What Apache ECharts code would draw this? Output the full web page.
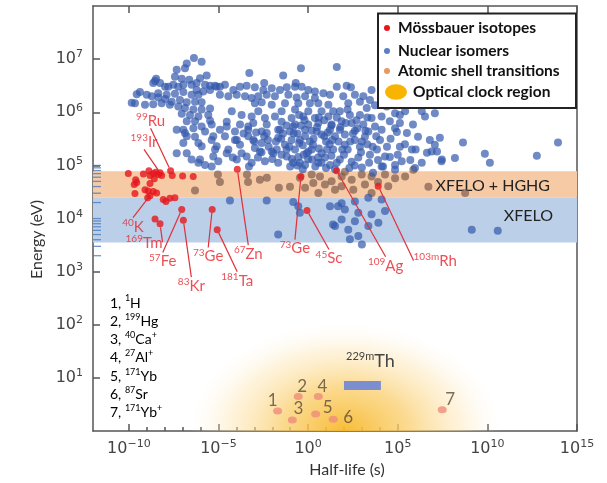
<!DOCTYPE html>
<html>
<head>
<meta charset="utf-8">
<script src="https://cdn.jsdelivr.net/npm/echarts@6/dist/echarts.min.js"></script>
<style>html,body{margin:0;padding:0;background:#fff}#main{width:607px;height:483px}</style>
</head>
<body>
<div id="main"></div>
<script>
// all values are log10: half-life in s (x), energy in eV (y)
var xMajorTicks = [-10, -5, 0, 5, 10, 15];
var xMinorTicks = [-10, -9, -8, -7, -6, -5, -4, -3, -2, -1, 0, 1, 2, 3, 4, 5];
var yTicks = [1, 2, 3, 4, 5, 6, 7];
var bandTickE = [2000, 3000, 4000, 5000, 6000, 7000, 8000, 9000, 10000, 20000, 30000, 40000, 50000, 60000, 70000, 80000, 90000, 100000];

var bandHghg = [4.39, 4.89];     // XFELO + HGHG
var bandXfelo = [3.55, 4.39];    // XFELO

// labelled Mössbauer isotopes
var mossMass = ['99', '193', '40', '169', '57', '83', '73', '181', '67', '73', '45', '109', '103m'];
var mossElem = ['Ru', 'Ir', 'K', 'Tm', 'Fe', 'Kr', 'Ge', 'Ta', 'Zn', 'Ge', 'Sc', 'Ag', 'Rh'];
var mossLogT = [-7.67, -8.26, -8.82, -8.26, -7.05, -6.96, -5.35, -5.07, -3.95, -0.40, -0.06, 1.59, 3.91];
var mossLogE = [4.90, 4.86, 4.43, 3.90, 4.17, 3.97, 4.17, 3.79, 4.93, 4.79, 4.15, 4.90, 4.61];
// other Mössbauer isotopes
var mossOther = [[-10.03,4.85],[-9.62,4.73],[-9.56,4.68],[-9.70,4.64],[-9.66,4.47],[-9.19,4.84],[-8.88,4.90],
    [-8.82,4.81],[-8.64,4.85],[-8.50,4.87],[-8.36,4.83],[-8.17,4.81],[-8.58,4.75],[-8.82,4.66],[-9.10,4.54],
    [-8.92,4.52],[-8.64,4.51],[-8.45,4.48],[-8.95,4.39],[-8.08,4.36],[-7.93,4.32],[-7.71,4.38],[-7.43,4.39],
    [-7.58,4.81],[-7.00,4.80],[-6.41,4.79],[-8.54,3.99]];

var isomers = [
    [-6.37,7.02],[-5.94,6.95],[-6.77,6.92],[-7.33,6.80],[-6.87,6.83],[-7.43,6.67],[-7.05,6.63],[-6.63,6.61],[-8.48,6.63],
    [-8.26,6.55],[-8.64,6.55],[-7.98,6.48],[-7.80,6.48],[-7.52,6.52],[-7.24,6.48],[-6.96,6.52],[-6.50,6.52],[-6.22,6.55],
    [-5.75,6.52],[-5.47,6.50],[-5.19,6.50],[-4.92,6.48],[-5.66,6.69],[-6.03,6.64],[-6.22,6.42],[-5.85,6.39],[-5.47,6.42],
    [-8.36,6.36],[-7.89,6.33],[-7.43,6.35],[-6.96,6.38],[-6.50,6.33],[-6.12,6.33],[-9.38,6.38],[-9.00,6.33],[-8.72,6.30],
    [-8.36,6.28],[-7.98,6.25],[-7.61,6.20],[-7.15,6.23],[-6.77,6.19],[-6.31,6.20],[-5.94,6.19],[-9.66,6.17],[-9.10,6.14],
    [-8.64,6.15],[-8.17,6.17],[-7.71,6.14],[-7.24,6.11],[-6.87,6.08],[-6.40,6.05],[-5.94,6.05],[-5.47,6.07],[-7.05,5.97],
    [-6.59,5.95],[-6.12,5.92],[-5.57,5.95],[-6.77,5.83],[-6.31,5.83],[-5.47,5.84],[-6.96,5.67],[-6.40,5.70],[-5.94,5.73],
    [-5.38,5.77],[-9.84,6.18],[-9.56,6.34],[-8.54,6.59],
    [-6.87,5.61],[-6.31,5.54],[-7.33,5.23],[-6.50,5.11],[-6.12,5.05],[-5.75,5.01],[-5.38,4.98],[-6.96,5.42],[-5.94,5.36],
    [-5.38,5.48],[-5.19,5.30],[-7.33,5.67],[-6.77,5.55],[-6.12,5.42],[-5.75,5.64],[-5.29,5.55],[-5.10,5.36],[-4.54,5.73],
    [-3.98,5.48],[-3.34,5.73],[-3.06,5.48],[-2.31,5.61],[-1.57,5.67],[-0.83,5.73],[-0.46,5.48],[-0.08,5.23],[-6.77,5.23],
    [-6.03,5.11],[-5.29,5.17],[-4.54,5.23],[-3.98,5.11],[-3.43,5.17],[-2.69,5.26],[-1.94,5.23],[-1.19,5.17],[-0.46,5.05],
    [-0.40,6.83],[1.60,6.85],[-3.28,6.74],[-1.39,6.69],[-2.45,6.55],[-0.69,6.55],[-5.10,6.48],[-4.64,6.52],[-4.17,6.42],
    [-3.80,6.48],[-3.43,6.50],[-2.97,6.47],[-2.50,6.42],[-2.03,6.45],[-1.57,6.42],[-1.19,6.47],[-0.73,6.48],[-0.36,6.48],
    [0.01,6.42],[0.38,6.39],[0.85,6.36],[1.22,6.33],[1.60,6.48],[-4.92,6.33],[-4.45,6.30],[-3.98,6.33],[-3.52,6.30],
    [-3.15,6.27],[-2.78,6.30],[-2.31,6.33],[-1.85,6.30],[-1.10,6.33],[-0.64,6.28],[-0.17,6.30],[0.38,6.27],[-2.97,6.17],
    [-2.59,6.19],[-2.03,6.14],[-1.29,6.17],[-0.55,6.17],[0.10,6.17],[0.57,6.17],[1.13,6.14],[-4.26,6.02],[-2.78,6.02],
    [-1.48,6.02],[-0.73,6.05],[0.01,6.02],[0.75,6.02],[1.40,6.02],[-3.71,5.95],[-3.15,5.92],[-2.41,5.89],[-1.85,5.92],
    [-0.92,5.89],[-0.27,5.92],[0.38,5.89],[1.13,5.92],[-4.54,5.82],[-3.80,5.77],[-3.06,5.80],[-2.31,5.77],[-1.48,5.82],
    [-0.73,5.77],[0.01,5.77],[0.57,5.80],[1.31,5.77],[-4.92,5.67],[-4.08,5.64],[-3.34,5.67],[-2.59,5.64],[-1.67,5.67],
    [-1.01,5.64],[-0.17,5.67],[0.48,5.64],[1.22,5.67],
    [2.15,6.50],[2.39,6.47],[1.96,6.30],[2.61,6.33],[3.08,6.30],[3.54,6.42],[2.89,6.20],[2.24,6.17],[3.45,6.23],
    [3.27,6.08],[3.73,6.13],[4.38,6.11],[4.85,5.98],[5.41,6.02],[6.34,6.02],[7.07,5.98],[1.77,6.02],[2.33,5.95],
    [2.89,5.95],[3.54,5.89],[4.10,5.92],[4.56,5.83],[1.87,5.83],[2.43,5.80],[3.08,5.77],[3.73,5.73],[1.77,5.67],
    [2.61,5.65],[3.36,5.64],[4.10,5.67],[4.85,5.70],[5.12,5.95],[5.12,5.80],[5.85,5.77],[6.52,5.92],[4.95,5.63],
    [5.51,5.61],[6.13,5.54],[6.79,5.48],[7.35,5.52],[5.12,5.35],[5.79,5.30],[6.63,5.24],[7.19,5.26],[7.46,5.11],
    [8.64,5.43],[9.86,5.22],[10.14,5.05],[12.76,5.18],[13.94,5.43],[4.01,5.48],[3.84,5.30],[4.56,5.16],[4.18,4.98],
    [4.85,5.01],[3.62,4.86],[8.19,5.14],
    [-4.64,5.55],[-4.08,5.48],[-3.34,5.55],[-2.59,5.42],[-1.67,5.52],[-0.92,5.48],[-0.17,5.55],[0.75,5.58],[1.50,5.55],
    [-4.45,5.30],[-3.71,5.23],[-2.97,5.33],[-2.03,5.26],[-1.48,5.20],[-0.73,5.30],[0.01,5.26],[0.75,5.23],[1.40,5.30],
    [-2.41,5.08],[-1.67,5.05],[-0.83,5.05],[-0.17,5.01],[0.57,5.05],[1.22,5.01],[-5.01,5.08],[-3.15,5.05],
    [7.07,5.39],[6.89,5.26],[7.44,5.08],[6.34,5.05],[5.96,4.95],[5.22,5.08],[4.29,5.17],[4.10,4.98],[4.85,4.92],
    [2.05,5.58],[2.61,5.48],[3.17,5.54],[2.21,5.30],[2.89,5.35],[3.45,5.20],[1.77,5.11],[2.43,5.07],[3.00,4.96],
    [2.05,5.39],[0.27,5.39],[1.00,5.45],[-0.55,5.16],[0.21,5.11],[0.94,5.15],[-1.29,5.39],[-2.24,5.48],[-3.80,5.39],
    [-2.20,5.35],[-1.80,5.45],[-1.20,5.30],[-0.60,5.60],[-0.30,5.38],[0.30,5.50],[0.60,5.32],[1.10,5.62],[1.70,5.45],
    [1.30,5.18],[0.40,4.98],[-0.90,5.12],[-2.00,5.12],[-2.80,5.15],[-1.40,5.60],[-0.20,5.85],[0.90,5.85],[1.60,5.90],
    [2.20,6.05],[2.70,5.85],[3.30,5.90],[2.50,5.60],[3.00,5.45],[3.80,5.55],[1.20,5.40],[0.55,5.15],[-0.50,5.42],
    [-1.00,4.98],[2.80,5.15],[3.40,5.05],[1.50,4.93],[-2.90,5.62],[-3.60,5.60],[-4.20,5.15],[-3.30,4.98],[2.00,5.20],
    [2.60,5.00],[0.00,5.12],[-1.20,5.75],[0.20,5.65],
    [-0.80,5.60],[-0.40,5.75],[0.10,5.45],[0.50,5.72],[0.90,5.55],[1.35,5.48],[1.80,5.72],[1.90,5.30],[1.60,5.05],
    [1.05,5.30],[0.75,5.05],[0.20,5.30],[-0.25,5.20],[-0.60,5.00],[-1.05,5.35],[-1.50,5.50],[-1.75,5.30],[-2.45,5.55],
    [-2.60,5.25],[-3.00,5.45],[2.35,5.45],[2.75,5.70],[3.20,5.65],[3.60,5.35],[3.90,5.10],[2.30,4.95],[1.00,4.95],
    [-0.30,4.93],[1.30,5.75],[0.60,5.90],[-0.50,5.95],[2.10,5.80],[2.95,5.25],[3.30,5.40],[4.40,5.35],[4.60,5.50],
    [5.40,5.40],[5.00,5.20],[5.70,5.10],[6.00,5.30],
    [-4.36,4.34],[-2.31,4.34],[-0.83,4.31],[-0.55,4.23],[-0.46,4.11],[-1.67,3.70],[1.50,3.86],[1.67,4.23],[1.87,4.29],
    [2.61,4.32],[3.36,4.39],[4.10,4.36],[2.05,4.17],[2.80,4.11],[3.54,4.08],[4.29,4.14],[1.87,3.98],[2.61,3.95],
    [3.36,3.86],[3.92,3.92],[2.24,3.79],[2.80,3.67],[2.33,3.61],[1.39,3.89],[3.00,3.51],[1.22,4.23],[9.13,3.79],[10.58,3.77]
];

var shellPts = [[-6.31,4.53],[-5.03,4.83],[-4.92,4.69],[-3.41,4.83],[-3.35,4.69],[-2.69,4.73],[-2.30,4.77],[-1.63,4.58],
    [-1.01,4.60],[0.20,4.83],[0.29,4.67],[0.66,4.79],[0.94,4.64],[1.31,4.70],[1.50,4.54],[0.57,4.48],[1.87,4.79],
    [2.43,4.73],[2.99,4.83],[3.54,4.79],[4.29,4.83],[4.85,4.76],[5.41,4.79],[5.87,4.92],[1.87,4.61],[2.52,4.54],
    [3.17,4.64],[4.47,4.61],[3.54,4.48],[6.71,4.60],[8.76,4.48],[-0.46,4.77],[-0.17,4.58],[2.05,4.88],[3.90,4.69]];

// optical clocks
var clockMass = ['1', '199', '40', '27', '171', '87', '171'];
var clockElem = ['H', 'Hg', 'Ca', 'Al', 'Yb', 'Sr', 'Yb'];
var clockIon = ['', '', '+', '+', '', '', '+'];
var clockLogT = [-1.70, -0.55, -0.88, 0.57, 0.42, 1.40, 7.48];
var clockLogE = [0.38, 0.65, 0.21, 0.65, 0.32, 0.225, 0.40];
var clockRegionT = [-6.7, 10.8];
var clockRegionE = [-2.05, 2.05];
var thT = [2.00, 4.06];   // 229mTh
var thE = [0.775, 0.945];

// label placement (pixels)
var mossShift = [[-20,-50],[-16,-31],[-17,31],[-16,19],[-19,52],[8,66],[-4,47],[20,51],[11,85],[-6,72],[22,48],[49,95],[57,75]];
var clockShift = [[-5,-10],[4,-10],[6,-11],[4,-10],[12,-7],[15,-2],[8,-10]];

var red = '#e5161d';
var chart = echarts.init(document.getElementById('main'));

function expLabel(v) {
    return '{b|10}{s|' + String(v).replace('-', '\u2212') + '}';
}
var tickRich = {
    b: {fontFamily: 'DejaVu Sans', fontSize: 16, color: '#444', lineHeight: 20},
    s: {fontFamily: 'DejaVu Sans', fontSize: 11, color: '#444', lineHeight: 12, verticalAlign: 'top'}
};
var axisLine = {onZero: false, lineStyle: {color: '#555', width: 1.5}};

var mossData = [];
for (var i = 0; i < mossLogT.length; i++) {
    mossData.push([mossLogT[i], mossLogE[i]]);
}
var clockData = [];
for (var j = 0; j < clockLogT.length; j++) {
    clockData.push([clockLogT[j], clockLogE[j]]);
}
var bandTickData = bandTickE.map(function (e) { return [-12, Math.log10(e)]; });

var graphic = [
    {type: 'rect', x: 378, y: 13.5, shape: {width: 198, height: 94.5}, style: {fill: '#fff', stroke: '#222', lineWidth: 2}, z: 100},
    {type: 'circle', shape: {cx: 387, cy: 28, r: 3}, style: {fill: red}, z: 101},
    {type: 'circle', shape: {cx: 387, cy: 51, r: 3}, style: {fill: '#5b7fc4'}, z: 101},
    {type: 'circle', shape: {cx: 387, cy: 71, r: 3}, style: {fill: '#e8995e'}, z: 101},
    {type: 'circle', x: 396, y: 92, scaleY: 0.7, shape: {cx: 0, cy: 0, r: 11}, style: {fill: '#f8b400'}, z: 101}
];
var legendText = ['Mössbauer isotopes', 'Nuclear isomers', 'Atomic shell transitions', 'Optical clock region'];
var legendPos = [[398, 28], [398, 51], [398, 71], [413, 92]];
legendText.forEach(function (t, k) {
    graphic.push({type: 'text', x: legendPos[k][0], y: legendPos[k][1], z: 101,
        style: {text: t, fill: '#111', fontFamily: 'Lato', fontWeight: 'bold', fontSize: 15.5, verticalAlign: 'middle'}});
});
var listRich = {
    n: {fontFamily: 'Lato', fontSize: 14, color: '#222', lineHeight: 18},
    s: {fontFamily: 'Lato', fontSize: 9, color: '#222', lineHeight: 10, verticalAlign: 'top'}
};
clockMass.forEach(function (m, k) {
    graphic.push({type: 'text', x: 110, y: 303 + k * 18.3,
        style: {text: '{n|' + (k + 1) + ', }{s|' + m + '}{n|' + clockElem[k] + '}' + (clockIon[k] ? '{s|+}' : ''),
            rich: listRich, verticalAlign: 'middle'}});
});

var option = {
    animation: false,
    backgroundColor: '#fff',
    grid: {left: 93, right: 30, top: 6, bottom: 51},
    xAxis: [{
        type: 'value', min: -12, max: 15, position: 'bottom',
        axisLine: axisLine,
        axisTick: {inside: true, length: 7, customValues: xMajorTicks, lineStyle: {color: '#555', width: 1.5}},
        axisLabel: {customValues: xMajorTicks, formatter: expLabel, rich: tickRich, margin: 8},
        splitLine: {show: false},
        name: 'Half-life (s)', nameLocation: 'middle', nameGap: 25,
        nameTextStyle: {fontFamily: 'Lato', fontSize: 16, color: '#333', padding: [0, 0, 0, 24]}
    }, {
        type: 'value', min: -12, max: 15, position: 'bottom',
        axisLine: {show: false, onZero: false},
        axisTick: {inside: true, length: 4, customValues: xMinorTicks, lineStyle: {color: '#555', width: 1.5}},
        axisLabel: {show: false}, splitLine: {show: false}
    }, {
        type: 'value', min: -12, max: 15, position: 'top',
        axisLine: axisLine,
        axisTick: {inside: true, length: 7, customValues: xMajorTicks, lineStyle: {color: '#555', width: 1.5}},
        axisLabel: {show: false}, splitLine: {show: false}
    }],
    yAxis: [{
        type: 'value', min: 0, max: 8, position: 'left',
        axisLine: axisLine,
        axisTick: {inside: true, length: 7, customValues: yTicks, lineStyle: {color: '#555', width: 1.5}},
        axisLabel: {customValues: yTicks, formatter: expLabel, rich: tickRich, margin: 10},
        splitLine: {show: false},
        name: 'Energy (eV)', nameLocation: 'middle', nameGap: 45,
        nameTextStyle: {fontFamily: 'Lato', fontSize: 16, color: '#333', padding: [0, 42, 0, 0]}
    }, {
        type: 'value', min: 0, max: 8, position: 'right',
        axisLine: axisLine, axisTick: {show: false}, axisLabel: {show: false}, splitLine: {show: false}
    }],
    graphic: graphic,
    series: [{
        name: 'bands', type: 'line', data: [], z: 1, silent: true,
        markArea: {
            silent: true, z: 1,
            label: {show: true, position: 'insideRight', color: '#222', fontFamily: 'Lato', fontSize: 16},
            data: [
                [{name: 'XFELO + HGHG', yAxis: bandHghg[0], itemStyle: {color: '#f7caa6', opacity: 1}, label: {offset: [-22, 1]}}, {yAxis: bandHghg[1]}],
                [{name: 'XFELO', yAxis: bandXfelo[0], itemStyle: {color: '#bccfe8', opacity: 1}, label: {offset: [-19, -4]}}, {yAxis: bandXfelo[1]}]
            ]
        }
    }, {
        name: 'Optical clock region', type: 'custom', z: 1, clip: true, silent: true,
        data: [[(clockRegionT[0] + clockRegionT[1]) / 2, (clockRegionE[0] + clockRegionE[1]) / 2]],
        renderItem: function (params, api) {
            var c = api.coord([api.value(0), api.value(1)]);
            var p = api.coord([clockRegionT[1], clockRegionE[1]]);
            var rx = p[0] - c[0], ry = c[1] - p[1];
            return {
                type: 'circle', x: c[0], y: c[1], scaleY: ry / rx,
                shape: {cx: 0, cy: 0, r: rx},
                style: {fill: new echarts.graphic.RadialGradient(0.5, 0.5, 0.5, [
                    {offset: 0, color: 'rgba(248,185,45,0.95)'},
                    {offset: 0.4, color: 'rgba(250,205,105,0.75)'},
                    {offset: 0.75, color: 'rgba(253,228,175,0.42)'},
                    {offset: 1, color: 'rgba(255,248,235,0)'}
                ])}
            };
        }
    }, {
        name: 'Atomic shell transitions', type: 'scatter', z: 2, data: shellPts,
        symbolSize: 8, itemStyle: {color: '#7d5c4e', opacity: 0.7}
    }, {
        name: 'Nuclear isomers', type: 'scatter', z: 3, data: isomers,
        symbolSize: 8, itemStyle: {color: '#3358ad', opacity: 0.7}
    }, {
        name: 'Mössbauer isotopes', type: 'scatter', z: 4, data: mossOther,
        symbolSize: 7, itemStyle: {color: red}
    }, {
        name: 'Mössbauer labelled', type: 'scatter', z: 4, data: mossData,
        symbolSize: 7, itemStyle: {color: red},
        label: {
            show: true, position: 'inside',
            formatter: function (p) { return '{s|' + mossMass[p.dataIndex] + '}{n|' + mossElem[p.dataIndex] + '}'; },
            rich: {
                n: {fontFamily: 'Lato', fontSize: 15, color: '#e8232a', lineHeight: 18},
                s: {fontFamily: 'Lato', fontSize: 10, color: '#e8232a', lineHeight: 11, verticalAlign: 'top'}
            }
        },
        labelLayout: function (p) { return {dx: mossShift[p.dataIndex][0], dy: mossShift[p.dataIndex][1]}; },
        labelLine: {show: true, lineStyle: {color: '#e0303a', width: 1.2}}
    }, {
        name: 'Optical clocks', type: 'scatter', z: 3, data: clockData,
        symbolSize: [9, 7], itemStyle: {color: '#ef8c7c'},
        label: {
            show: true, position: 'inside', color: '#5a4a3a', fontFamily: 'Lato', fontSize: 17,
            formatter: function (p) { return String(p.dataIndex + 1); }
        },
        labelLayout: function (p) { return {dx: clockShift[p.dataIndex][0], dy: clockShift[p.dataIndex][1]}; },
        markArea: {
            silent: true, z: 5,
            itemStyle: {color: '#7b8ed0', opacity: 1},
            label: {
                show: true, position: 'top', distance: 10, offset: [8, 0],
                formatter: '{s|229m}{n|Th}',
                rich: {
                    n: {fontFamily: 'Lato', fontSize: 18, color: '#444', lineHeight: 20},
                    s: {fontFamily: 'Lato', fontSize: 11, color: '#444', lineHeight: 11, verticalAlign: 'top'}
                }
            },
            data: [[{coord: [thT[0], thE[0]]}, {coord: [thT[1], thE[1]]}]]
        }
    }, {
        name: 'band ticks', type: 'scatter', z: 5, silent: true, clip: false, data: bandTickData,
        symbol: 'rect', symbolSize: [8, 1.3], symbolOffset: [4, 0], itemStyle: {color: '#4a7cc2'}
    }]
};
chart.setOption(option);
</script>
</body>
</html>
